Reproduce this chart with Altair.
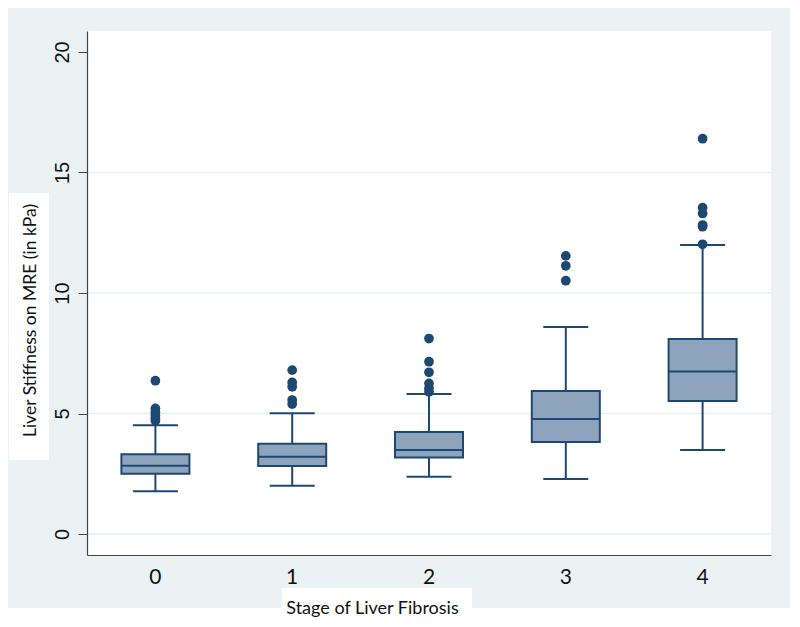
import altair as alt
import pandas as pd

# ---- data ----
stages = ["0", "1", "2", "3", "4"]
lower_whisker = [1.78, 2.00, 2.38, 2.28, 3.49]
q1 = [2.50, 2.82, 3.17, 3.82, 5.52]
median = [2.83, 3.21, 3.49, 4.77, 6.74]
q3 = [3.31, 3.75, 4.23, 5.93, 8.09]
upper_whisker = [4.51, 5.01, 5.81, 8.59, 11.99]

outlier_stage = ["0"] * 6 + ["1"] * 5 + ["2"] * 6 + ["3"] * 3 + ["4"] * 6
outlier_value = [6.36, 5.21, 5.05, 4.92, 4.80, 4.70,
                 6.80, 6.29, 6.11, 5.56, 5.39,
                 8.11, 7.15, 6.71, 6.25, 6.05, 5.90,
                 11.54, 11.13, 10.51,
                 16.40, 13.54, 13.30, 12.82, 12.75, 12.02]

grid_values = [0, 5, 10, 15]
y_ticks = [0, 5, 10, 15, 20]

summary = pd.DataFrame({"stage": stages, "lo": lower_whisker, "q1": q1,
                        "med": median, "q3": q3, "hi": upper_whisker})
outliers = pd.DataFrame({"stage": outlier_stage, "value": outlier_value})
grid = pd.DataFrame({"g": grid_values})

NAVY = "#1D4872"
FILL = "#8EA4BC"
BG = "#EAF2F3"

W, H = 684, 524

x_enc = alt.X("stage:N", sort=stages,
              scale=alt.Scale(paddingInner=0, paddingOuter=0),
              axis=alt.Axis(title="Stage of Liver Fibrosis", labelAngle=0,
                            ticks=False, labelPadding=11, labelFontSize=21,
                            labelFont="Lato", labelColor="#111",
                            domainColor="#444", domainWidth=1.2,
                            titleFont="Lato", titleFontSize=18,
                            titleFontWeight="normal", titleColor="#111",
                            titleX=285, titleY=58, titleBaseline="alphabetic",
                            titleAlign="center", grid=False, zindex=1))
y_scale = alt.Scale(domain=[-0.87, 20.87], nice=False, zero=False)
y_axis = alt.Axis(title="Liver Stiffness on MRE (in kPa)", values=y_ticks,
                  labelAngle=270, labelAlign="center", labelBaseline="bottom",
                  labelFont="Liberation Sans", labelFontSize=20,
                  labelColor="#111", labelPadding=6, tickSize=9,
                  tickColor="#444", domainColor="#444", domainWidth=1.2,
                  titleFont="Lato", titleFontSize=17.5,
                  titleFontWeight="normal", titleColor="#111",
                  titleAngle=270, titleAlign="center", titleBaseline="middle",
                  titleX=-57, titleY=289, grid=False, zindex=1)

# white boxes behind the axis titles and white strip at the bottom
ybox = alt.Chart(summary).mark_rect(color="white").encode(
    x=alt.value(-78), x2=alt.value(-38), y=alt.value(162), y2=alt.value(429))
xbox = alt.Chart(summary).mark_rect(color="white").encode(
    x=alt.value(195), x2=alt.value(385), y=alt.value(557), y2=alt.value(600))
bstrip = alt.Chart(summary).mark_rect(color="white").encode(
    x=alt.value(-80), x2=alt.value(720), y=alt.value(577), y2=alt.value(600))

gridlines = alt.Chart(grid).mark_rule(color="#E6EFF1", strokeWidth=1.5).encode(
    y=alt.Y("g:Q", scale=y_scale, axis=y_axis),
    x=alt.value(0), x2=alt.value(W))

whisk_lo = alt.Chart(summary).mark_rule(color=NAVY, strokeWidth=2).encode(
    x=x_enc, y=alt.Y("lo:Q", scale=y_scale, axis=y_axis), y2="q1:Q")
whisk_hi = alt.Chart(summary).mark_rule(color=NAVY, strokeWidth=2).encode(
    x=x_enc, y=alt.Y("q3:Q", scale=y_scale, axis=y_axis), y2="hi:Q")
box = alt.Chart(summary).mark_bar(size=68, fill=FILL, stroke=NAVY,
                                  strokeWidth=2).encode(
    x=x_enc, y=alt.Y("q1:Q", scale=y_scale, axis=y_axis), y2="q3:Q")
med = alt.Chart(summary).mark_tick(size=68, thickness=2, color=NAVY,
                                   opacity=1).encode(
    x=x_enc, y=alt.Y("med:Q", scale=y_scale, axis=y_axis))
cap_lo = alt.Chart(summary).mark_tick(size=45, thickness=2, color=NAVY,
                                      opacity=1).encode(
    x=x_enc, y=alt.Y("lo:Q", scale=y_scale, axis=y_axis))
cap_hi = alt.Chart(summary).mark_tick(size=45, thickness=2, color=NAVY,
                                      opacity=1).encode(
    x=x_enc, y=alt.Y("hi:Q", scale=y_scale, axis=y_axis))
pts = alt.Chart(outliers).mark_circle(size=95, color=NAVY, opacity=1).encode(
    x=x_enc, y=alt.Y("value:Q", scale=y_scale, axis=y_axis))

chart = alt.layer(ybox, xbox, bstrip, gridlines, whisk_lo, whisk_hi, box,
                  med, cap_lo, cap_hi, pts).properties(
    width=W, height=H,
    autosize=alt.AutoSizeParams(type="none"),
    padding={"left": 79, "top": 23, "right": 19, "bottom": 63},
    background=BG,
).configure_view(fill="white", stroke=None)

chart.save("out.html", embed_options={"renderer": "svg", "actions": False})
